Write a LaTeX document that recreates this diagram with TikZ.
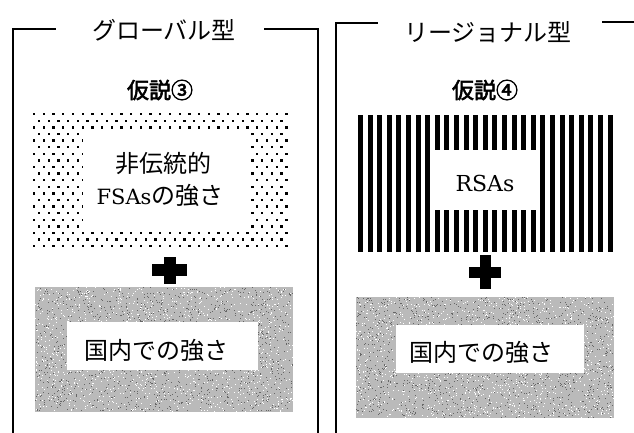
\documentclass[tikz,border=0pt]{standalone}
\usepackage{fontspec}
\newfontfamily\cjk{Noto Sans CJK JP}
\newfontfamily\cjkb[FakeBold=2.5]{Noto Sans CJK JP}
\newfontfamily\latserif{DejaVu Serif}
\begin{document}
\begin{tikzpicture}[x=1pt,y=-1pt,
  frame/.style={line width=2pt, line cap=rect},
  titletext/.style={font=\cjk\fontsize{24}{28}\selectfont, inner sep=0pt},
  hyptext/.style={font=\cjkb\fontsize{22}{26}\selectfont, inner sep=0pt},
  bodytext/.style={font=\cjk\fontsize{24}{31}\selectfont, align=center, inner sep=0pt},
  whitebox/.style={fill=white},
  grayfill/.style={fill=black!27},
  speck/.style={fill=black!60},
  lspeck/.style={fill=white}
]
\useasboundingbox[fill=white] (0,0) rectangle (634,432);

% ---- frames ----
\draw[frame] (55,29) -- (13,29) -- (13,432);
\draw[frame] (265,29) -- (318,29) -- (318,432);
\draw[frame] (377,23) -- (336,23) -- (336,432);
\draw[frame] (603,22) -- (634,22);

% ---- titles ----
\node[titletext] (tglobal) at (164,30) {グローバル型};
\node[titletext] (tregion) at (488,32) {リージョナル型};
\node[hyptext] (h3) at (160,90) {仮説③};
\node[hyptext] (h4) at (485,90) {仮説④};

% ---- left dotted box ----
\begin{scope}
  \clip (32,112) rectangle (289,248);
  \foreach \r in {0,...,20}{
    \foreach \c in {0,...,26}{
      \fill ({33+\c*9.7+mod(\r,2)*4.85},{113+\r*6.6}) rectangle ++(2.3,2.3);
    }
  }
\end{scope}
\fill[whitebox] (83,133) rectangle (251,230);
\node[bodytext] (fsa1) at (163,163) {非伝統的};
\node[bodytext] (fsa2) at (160,195) {{\latserif\fontsize{21}{31}\selectfont FSAs}の強さ};

% ---- right striped box ----
\foreach \i in {0,...,26}{
  \fill ({358+\i*9.6},115) rectangle ++(5,137);
}
\fill[whitebox] (433,150) rectangle (536,210);
\node[bodytext, font=\latserif\fontsize{22}{28}\selectfont] (rsa) at (485,183) {RSAs};

% ---- plus signs ----
\fill (152,264) rectangle (187,276);
\fill (164,257) rectangle (176,284);
\fill (469,267) rectangle (501,278);
\fill (480,255) rectangle (491,289);

% ---- gray boxes ----
\pgfmathsetseed{11}
\fill[grayfill] (35,287) rectangle (293,412);
\foreach \i in {1,...,1400}{
  \fill[speck] ({35+rnd*257},{287+rnd*124}) rectangle ++(1,1);
  \fill[lspeck] ({35+rnd*257},{287+rnd*124}) rectangle ++(1,1);
}
\fill[whitebox] (67,322) rectangle (258,370);
\node[bodytext] (dom1) at (156,350) {国内での強さ};

\fill[grayfill] (356,297) rectangle (614,418);
\foreach \i in {1,...,1400}{
  \fill[speck] ({356+rnd*257},{297+rnd*120}) rectangle ++(1,1);
  \fill[lspeck] ({356+rnd*257},{297+rnd*120}) rectangle ++(1,1);
}
\fill[whitebox] (396,325) rectangle (584,373);
\node[bodytext] (dom2) at (481,352) {国内での強さ};
\end{tikzpicture}
\end{document}
